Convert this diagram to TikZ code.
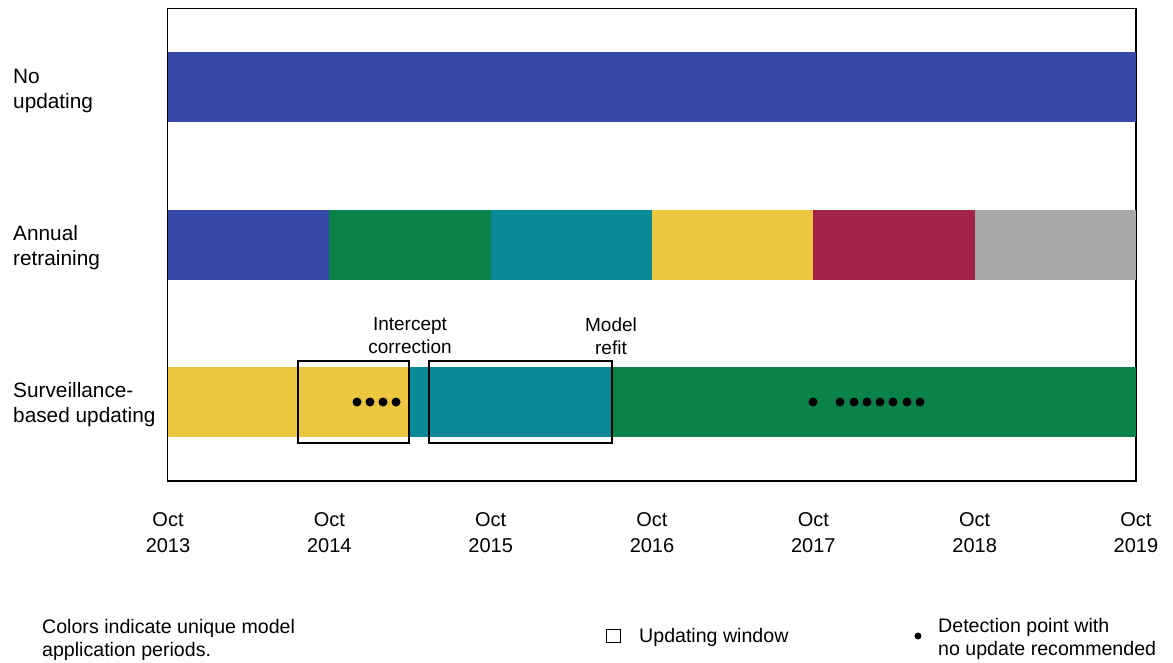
\documentclass[tikz,border=0pt]{standalone}
\usepackage{fontspec}
\setmainfont{Liberation Sans}
\usetikzlibrary{positioning}

% Colours of the model application periods
\definecolor{perblue}{RGB}{55,72,168}
\definecolor{pergreen}{RGB}{10,131,74}
\definecolor{perteal}{RGB}{10,138,151}
\definecolor{peryellow}{RGB}{236,198,62}
\definecolor{percrimson}{RGB}{162,36,74}
\definecolor{pergray}{RGB}{168,168,168}

\tikzset{
    label/.style={align=left, font=\fontsize{20.8}{25}\selectfont, inner sep=0pt},
    tick/.style={align=center, font=\fontsize{20}{26}\selectfont, inner sep=0pt},
    note/.style={align=center, font=\fontsize{19}{23}\selectfont, inner sep=0pt},
    legend/.style={align=left, font=\fontsize{19.6}{23}\selectfont, inner sep=0pt},
    window/.style={draw=black, line width=1.6pt},
    detect/.style={fill=black}
}

\begin{document}
\begin{tikzpicture}[x=1pt, y=-1pt]

    % Fix the size of the page
    \useasboundingbox (0,0) rectangle (1173,662);

    % Left edge and width of one year on the time axis
    \def\xo{168}
    \def\yr{161.33}

    % Frame of the plot
    \draw[line width=1.6pt] (167.5,8.5) rectangle (1136,481);

    % No updating: one model over the whole period
    \fill[perblue] (\xo,52) rectangle (1136,122);

    % Annual retraining: a new model every year
    \foreach \i/\c in {0/perblue,1/pergreen,2/perteal,3/peryellow,4/percrimson,5/pergray}
        \fill[\c] ({\xo+\i*\yr},210) rectangle ({\xo+(\i+1)*\yr},280);

    % Surveillance-based updating
    \fill[peryellow] (\xo,367) rectangle (410,437);
    \fill[perteal] (410,367) rectangle (612,437);
    \fill[pergreen] (612,367) rectangle (1136,437);

    % Updating windows
    \draw[window] (298,361) rectangle (409,443);
    \draw[window] (429,361) rectangle (612,443);

    % Detection points with no update recommended
    \foreach \x in {357,370,383,396}
        \fill[detect] (\x,402) circle (4.5);
    \foreach \x in {813,840,854,867,880,893,907,920}
        \fill[detect] (\x,402) circle (4.5);

    % Names of the strategies
    \node[label, anchor=west] (noupd) at (13,91) {No\\updating};
    \node[label, anchor=west] (annual) at (13,248) {Annual\\retraining};
    \node[label, anchor=west] (surv) at (13,405) {Surveillance-\\based updating};

    % Notes above the updating windows
    \node[note] (intercept) at (410,336) {Intercept\\correction};
    \node[note] (refit) at (611,336) {Model\\refit};

    % Time axis labels
    \foreach \i/\y in {0/2013,1/2014,2/2015,3/2016,4/2017,5/2018,6/2019}
        \node[tick] (t\y) at ({\xo+\i*\yr},533) {Oct\\\y};

    % Legend
    \node[legend, anchor=west] (colours) at (42,639.5) {Colors indicate unique model\\application periods.};
    \draw[line width=1.8pt] (606.5,629.5) rectangle (620.5,642.5);
    \node[legend, anchor=west] (winkey) at (639,637.5) {Updating window};
    \fill[detect] (918,636) circle (3.5);
    \node[legend, anchor=west] (detkey) at (938,639) {Detection point with\\no update recommended};

\end{tikzpicture}
\end{document}
